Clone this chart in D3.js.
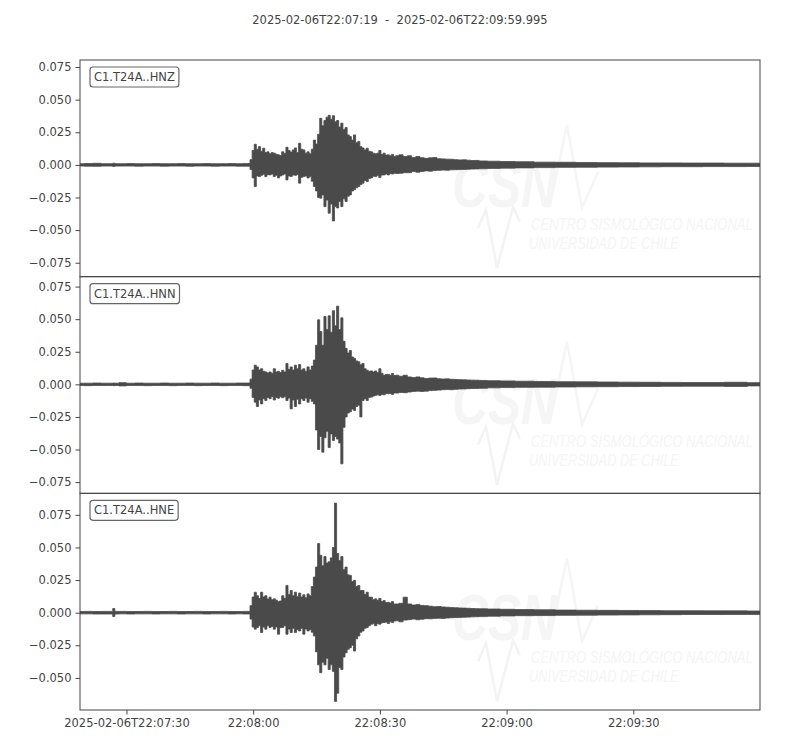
<!DOCTYPE html>
<html>
<head>
<meta charset="utf-8">
<script src="https://cdn.jsdelivr.net/npm/d3@7"></script>
<style>
  html, body { margin: 0; padding: 0; background: #fff; }
  svg { display: block; font-family: "DejaVu Sans", sans-serif; }
</style>
</head>
<body>
<div id="chart"></div>
<script>
// ---------------- DATA ----------------
const titleText = "2025-02-06T22:07:19  -  2025-02-06T22:09:59.995";
const startTime = "2025-02-06T22:07:19.000Z";
const endTime = "2025-02-06T22:09:59.995Z";
const traceNames = ["C1.T24A..HNZ", "C1.T24A..HNN", "C1.T24A..HNE"];

// time of each envelope bin (seconds after start)
const binTime = [0,2,4,6,7.5,8,8.5,10,12,14,16,18,20,22,24,26,28,30,32,34,36,38,39,
  40,40.5,41,41.5,42,42.5,43,43.5,44,44.5,45,45.5,46,46.5,47,47.5,48,48.5,49,49.5,
  50,50.5,51,51.5,52,52.5,53,53.5,54,54.5,55,55.5,56,56.5,57,57.5,58,58.5,59,59.5,
  60,60.5,61,61.5,62,62.5,63,63.5,64,64.5,65,65.5,66,66.5,67,67.5,68,68.5,69,69.5,
  70,70.5,71,71.5,72,72.5,73,73.5,74,74.5,75,
  76,77,78,79,80,81,82,83,84,85,86,87,88,89,90,91,92,93,94,95,
  98,101,105,110,115,120,125,130,135,140,145,150,155,161];

// HNZ envelope (max / min per bin)
const hnzMax = [.0009,.0010,.0012,.0009,.0009,.0013,.0009,.0009,.0010,.0009,.0009,.0010,.0009,.0009,.0010,.0009,.0009,.0010,.0009,.0009,.0010,.0009,.0010,
  .0010,.0040,.0110,.0158,.0120,.0140,.0105,.0128,.0095,.0100,.0085,.0094,.0090,.0082,.0077,.0072,.0100,.0088,.0135,.0110,
  .0098,.0115,.0130,.0095,.0166,.0120,.0115,.0090,.0100,.0085,.0120,.0190,.0160,.0235,.0357,.0300,.0340,.0365,.0380,.0350,
  .0377,.0330,.0340,.0290,.0320,.0270,.0286,.0230,.0217,.0190,.0230,.0170,.0180,.0140,.0130,.0115,.0128,.0105,.0100,.0090,
  .0085,.0090,.0110,.0080,.0090,.0075,.0077,.0070,.0080,.0065,.0070,
  .0077,.0064,.0070,.0056,.0064,.0055,.0050,.0054,.0056,.0047,.0046,.0044,.0043,.0040,.0038,.0039,.0036,.0033,.0034,.0030,
  .0028,.0026,.0024,.0021,.0020,.0018,.0017,.0016,.0015,.0015,.0014,.0014,.0013,.0013];
const hnzMin = [-.0009,-.0010,-.0011,-.0009,-.0009,-.0012,-.0009,-.0009,-.0009,-.0010,-.0009,-.0009,-.0010,-.0009,-.0009,-.0010,-.0009,-.0009,-.0010,-.0009,-.0009,-.0010,-.0010,
  -.0010,-.0035,-.0100,-.0166,-.0085,-.0090,-.0080,-.0072,-.0090,-.0075,-.0077,-.0070,-.0090,-.0080,-.0100,-.0085,-.0077,-.0070,-.0115,-.0085,
  -.0090,-.0078,-.0080,-.0075,-.0140,-.0095,-.0090,-.0085,-.0100,-.0090,-.0125,-.0166,-.0200,-.0250,-.0255,-.0230,-.0320,-.0270,-.0370,-.0300,
  -.0430,-.0320,-.0330,-.0280,-.0320,-.0260,-.0280,-.0240,-.0230,-.0200,-.0190,-.0175,-.0166,-.0150,-.0140,-.0120,-.0128,-.0105,-.0100,-.0088,
  -.0090,-.0082,-.0097,-.0078,-.0077,-.0070,-.0077,-.0068,-.0070,-.0064,-.0066,
  -.0064,-.0060,-.0060,-.0050,-.0056,-.0050,-.0046,-.0048,-.0043,-.0042,-.0040,-.0041,-.0038,-.0037,-.0036,-.0035,-.0033,-.0032,-.0031,-.0030,
  -.0027,-.0025,-.0023,-.0021,-.0019,-.0018,-.0017,-.0016,-.0015,-.0014,-.0014,-.0013,-.0013,-.0012];

// HNN envelope
const hnnMax = [.0009,.0009,.0010,.0009,.0009,.0010,.0009,.0013,.0009,.0010,.0009,.0009,.0010,.0009,.0009,.0010,.0009,.0009,.0010,.0009,.0009,.0010,.0010,
  .0010,.0040,.0110,.0147,.0134,.0110,.0120,.0100,.0095,.0088,.0095,.0085,.0120,.0095,.0100,.0090,.0108,.0095,.0160,.0115,
  .0134,.0110,.0147,.0120,.0152,.0110,.0120,.0100,.0134,.0110,.0140,.0186,.0300,.0495,.0405,.0300,.0520,.0420,.0526,.0400,
  .0565,.0450,.0600,.0420,.0510,.0330,.0276,.0240,.0260,.0210,.0200,.0180,.0173,.0150,.0160,.0120,.0108,.0100,.0103,.0095,
  .0103,.0090,.0120,.0085,.0070,.0075,.0077,.0070,.0083,.0068,.0070,
  .0062,.0070,.0057,.0052,.0057,.0050,.0044,.0048,.0049,.0043,.0041,.0042,.0039,.0037,.0036,.0035,.0033,.0032,.0031,.0030,
  .0028,.0026,.0024,.0022,.0020,.0019,.0018,.0017,.0016,.0015,.0014,.0014,.0016,.0013];
const hnnMin = [-.0009,-.0010,-.0009,-.0009,-.0009,-.0010,-.0009,-.0012,-.0009,-.0009,-.0010,-.0009,-.0009,-.0010,-.0009,-.0009,-.0010,-.0009,-.0009,-.0010,-.0009,-.0009,-.0010,
  -.0010,-.0030,-.0100,-.0137,-.0170,-.0120,-.0150,-.0110,-.0124,-.0100,-.0110,-.0095,-.0120,-.0100,-.0106,-.0095,-.0103,-.0095,-.0124,-.0105,
  -.0188,-.0120,-.0170,-.0115,-.0150,-.0110,-.0124,-.0105,-.0137,-.0110,-.0130,-.0150,-.0350,-.0500,-.0400,-.0520,-.0410,-.0360,-.0485,-.0380,
  -.0430,-.0400,-.0420,-.0450,-.0610,-.0330,-.0250,-.0220,-.0210,-.0190,-.0200,-.0170,-.0160,-.0250,-.0124,-.0110,-.0124,-.0100,-.0098,-.0090,
  -.0085,-.0080,-.0085,-.0078,-.0080,-.0072,-.0072,-.0070,-.0077,-.0066,-.0067,
  -.0062,-.0064,-.0059,-.0054,-.0052,-.0054,-.0052,-.0048,-.0046,-.0044,-.0041,-.0040,-.0041,-.0038,-.0036,-.0035,-.0033,-.0032,-.0031,-.0030,
  -.0027,-.0025,-.0023,-.0022,-.0020,-.0019,-.0018,-.0017,-.0016,-.0015,-.0014,-.0014,-.0016,-.0012];

// HNE envelope
const hneMax = [.0009,.0010,.0009,.0010,.0010,.0032,.0010,.0010,.0009,.0009,.0010,.0009,.0009,.0010,.0009,.0009,.0010,.0009,.0009,.0010,.0009,.0009,.0010,
  .0010,.0054,.0120,.0157,.0130,.0110,.0157,.0120,.0130,.0105,.0119,.0100,.0106,.0095,.0085,.0090,.0130,.0110,.0209,.0140,
  .0170,.0130,.0157,.0125,.0150,.0120,.0137,.0115,.0144,.0130,.0200,.0273,.0350,.0530,.0440,.0360,.0430,.0380,.0390,.0420,
  .0500,.0840,.0454,.0400,.0430,.0330,.0350,.0290,.0286,.0240,.0248,.0200,.0209,.0170,.0170,.0140,.0157,.0120,.0119,.0100,
  .0106,.0095,.0110,.0085,.0093,.0078,.0080,.0075,.0085,.0066,.0067,
  .0072,.0119,.0067,.0059,.0062,.0056,.0054,.0050,.0046,.0047,.0044,.0042,.0039,.0038,.0036,.0035,.0034,.0032,.0031,.0030,
  .0028,.0026,.0024,.0022,.0020,.0019,.0018,.0017,.0016,.0015,.0015,.0014,.0014,.0013];
const hneMin = [-.0009,-.0009,-.0010,-.0010,-.0010,-.0030,-.0010,-.0009,-.0010,-.0009,-.0009,-.0010,-.0009,-.0009,-.0010,-.0009,-.0009,-.0010,-.0009,-.0009,-.0010,-.0009,-.0010,
  -.0010,-.0049,-.0110,-.0126,-.0113,-.0100,-.0152,-.0110,-.0126,-.0100,-.0113,-.0105,-.0126,-.0110,-.0165,-.0115,-.0113,-.0100,-.0165,-.0125,
  -.0152,-.0120,-.0152,-.0130,-.0140,-.0120,-.0165,-.0125,-.0140,-.0130,-.0150,-.0178,-.0300,-.0400,-.0460,-.0380,-.0400,-.0350,-.0436,-.0400,
  -.0450,-.0680,-.0617,-.0420,-.0436,-.0340,-.0307,-.0280,-.0268,-.0250,-.0294,-.0200,-.0178,-.0150,-.0140,-.0120,-.0113,-.0100,-.0088,-.0085,
  -.0100,-.0085,-.0088,-.0078,-.0075,-.0072,-.0083,-.0070,-.0075,-.0064,-.0062,
  -.0070,-.0057,-.0054,-.0049,-.0054,-.0050,-.0046,-.0047,-.0044,-.0043,-.0044,-.0041,-.0039,-.0037,-.0036,-.0035,-.0034,-.0032,-.0031,-.0030,
  -.0027,-.0025,-.0023,-.0022,-.0020,-.0019,-.0018,-.0017,-.0016,-.0015,-.0014,-.0014,-.0013,-.0013];

// y-axis limits and ticks per panel
const yLimits = [[-0.0857, 0.0804], [-0.0836, 0.0826], [-0.0746, 0.0915]];
const yTicks = [
  [-0.075, -0.05, -0.025, 0, 0.025, 0.05, 0.075],
  [-0.075, -0.05, -0.025, 0, 0.025, 0.05, 0.075],
  [-0.05, -0.025, 0, 0.025, 0.05, 0.075]
];
const xTickTimes = ["2025-02-06T22:07:30Z", "2025-02-06T22:08:00Z", "2025-02-06T22:08:30Z", "2025-02-06T22:09:00Z", "2025-02-06T22:09:30Z"];
const xTickLabels = ["2025-02-06T22:07:30", "22:08:00", "22:08:30", "22:09:00", "22:09:30"];

// ---------------- DRAW ----------------
const W = 800, H = 750;
const left = 80, right = 760, top0 = 60, bottom = 710;
const panelH = (bottom - top0) / 3;
const ink = "#444444";
const waveColor = "#4a4a4a";
const fontSize = 11.5;

const traces = [
  { name: traceNames[0], max: hnzMax, min: hnzMin },
  { name: traceNames[1], max: hnnMax, min: hnnMin },
  { name: traceNames[2], max: hneMax, min: hneMin }
];

const svg = d3.select("#chart").append("svg")
  .attr("width", W).attr("height", H);

const t0 = new Date(startTime), t1 = new Date(endTime);
const x = d3.scaleUtc().domain([t0, t1]).range([left, right]);
const toDate = s => new Date(t0.getTime() + s * 1000);

svg.append("text")
  .attr("x", 400).attr("y", 24)
  .attr("text-anchor", "middle")
  .attr("font-size", fontSize)
  .attr("fill", ink)
  .style("white-space", "pre")
  .text(titleText);

const minusFmt = v => {
  const s = d3.format(".3f")(Math.abs(v));
  return v < 0 ? "\u2212" + s : s;
};

// text squeezed horizontally to a target width (watermark lettering)
function squeezedText(parent, str, x0, y0, size, targetW, opts) {
  const g = parent.append("g");
  const t = g.append("text")
    .attr("x", 0).attr("y", 0)
    .attr("font-size", size)
    .attr("font-style", opts.italic ? "italic" : "normal")
    .attr("font-weight", opts.bold ? "bold" : "normal")
    .attr("font-family", "Liberation Sans, sans-serif")
    .text(str);
  const w = t.node().getComputedTextLength();
  g.attr("transform", `translate(${x0},${y0}) scale(${targetW / w},1)`);
  return g;
}

traces.forEach((tr, i) => {
  const pTop = top0 + i * panelH;
  const pBot = pTop + panelH;
  const y = d3.scaleLinear().domain(yLimits[i]).range([pBot, pTop]);

  const g = svg.append("g");

  // watermark (very faint)
  const wm = g.append("g").attr("fill", "#f5f5f5").attr("stroke", "none");
  const wy = pTop;
  squeezedText(wm, "CSN", 452, wy + 147, 64, 105, { italic: true, bold: true });
  wm.append("path")
    .attr("fill", "none").attr("stroke", "#f3f3f3").attr("stroke-width", 2.5)
    .attr("d", `M478,${wy+168} L486,${wy+150} L497,${wy+208} L513,${wy+147} L520,${wy+162}`);
  wm.append("path")
    .attr("fill", "none").attr("stroke", "#f5f5f5").attr("stroke-width", 2.5)
    .attr("d", `M551,${wy+140} L567,${wy+65} L582,${wy+148} L598,${wy+112}`);
  squeezedText(wm, "CENTRO SISMOLÓGICO NACIONAL", 531, wy + 170, 17, 222, { italic: true });
  squeezedText(wm, "UNIVERSIDAD DE CHILE", 529, wy + 189, 17, 150, { italic: true });

  // clip
  const clipId = "clip" + i;
  svg.append("clipPath").attr("id", clipId)
    .append("rect").attr("x", left).attr("y", pTop).attr("width", right - left).attr("height", panelH);

  const rows = binTime.map((s, k) => ({ t: toDate(s), hi: tr.max[k], lo: tr.min[k] }));
  const area = d3.area()
    .x(d => x(d.t))
    .y0(d => y(d.lo))
    .y1(d => y(d.hi))
    .curve(d3.curveStep);

  g.append("path")
    .datum(rows)
    .attr("clip-path", `url(#${clipId})`)
    .attr("d", area)
    .attr("fill", waveColor)
    .attr("stroke", waveColor)
    .attr("stroke-width", 0.8)
    .attr("stroke-linejoin", "round");

  // frame
  g.append("rect")
    .attr("x", left).attr("y", pTop)
    .attr("width", right - left).attr("height", panelH)
    .attr("fill", "none").attr("stroke", ink).attr("stroke-width", 1);

  // y axis
  const yAxis = d3.axisLeft(y).tickValues(yTicks[i]).tickFormat(minusFmt).tickSize(4.5).tickPadding(4);
  const ya = g.append("g").attr("transform", `translate(${left},0)`).call(yAxis);
  ya.select(".domain").remove();
  ya.selectAll("line").attr("stroke", ink);
  ya.selectAll("text").attr("fill", ink).attr("font-size", fontSize).attr("font-family", "DejaVu Sans, sans-serif");

  // label box
  const lab = g.append("g");
  const txt = lab.append("text")
    .attr("x", left + 14).attr("y", pTop + 21)
    .attr("font-size", fontSize).attr("fill", ink)
    .text(tr.name);
  const bb = txt.node().getBBox();
  lab.insert("rect", "text")
    .attr("x", bb.x - 4).attr("y", pTop + 7)
    .attr("width", bb.width + 8).attr("height", 20)
    .attr("rx", 3).attr("ry", 3)
    .attr("fill", "#fff").attr("stroke", "#666").attr("stroke-width", 1.2);

  if (i === 2) {
    const xAxis = d3.axisBottom(x)
      .tickValues(xTickTimes.map(s => new Date(s)))
      .tickFormat((d, k) => xTickLabels[k])
      .tickSize(4.5).tickPadding(4);
    const xa = g.append("g").attr("transform", `translate(0,${pBot})`).call(xAxis);
    xa.select(".domain").remove();
    xa.selectAll("line").attr("stroke", ink);
    xa.selectAll("text").attr("fill", ink).attr("font-size", fontSize).attr("font-family", "DejaVu Sans, sans-serif");
  }
});
</script>
</body>
</html>
